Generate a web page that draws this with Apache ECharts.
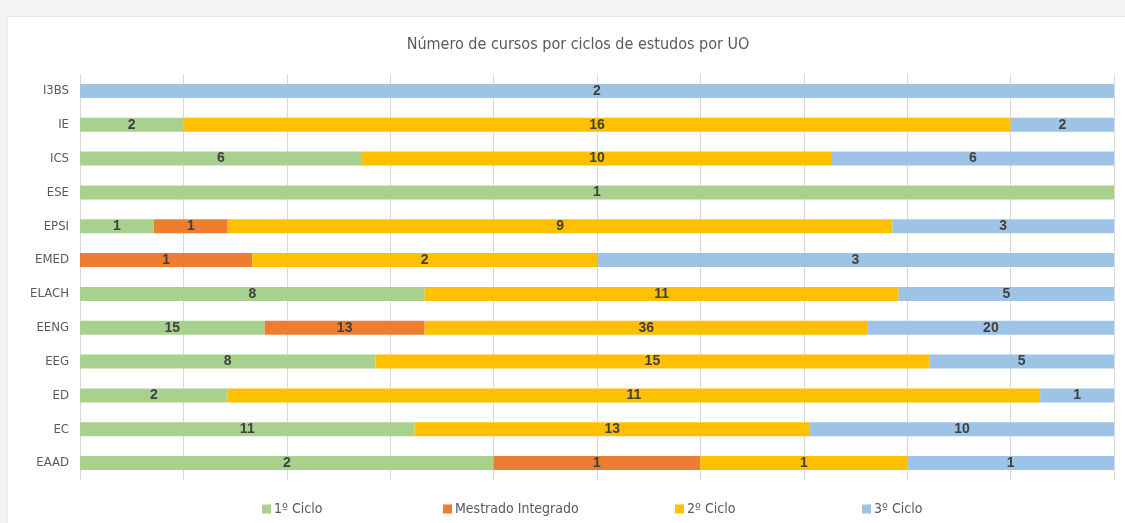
<!DOCTYPE html>
<html>
<head>
<meta charset="utf-8">
<script src="https://cdn.jsdelivr.net/npm/echarts@6/dist/echarts.min.js"></script>
<style>
  html, body { margin: 0; padding: 0; background: #f3f3f3; }
  #card { position: absolute; left: 7px; top: 16px; width: 1130px; height: 520px; background: #fff; border-top: 1px solid #e4e4e4; border-left: 1px solid #ececec; }
  #chart { position: absolute; left: 0; top: 0; width: 1125px; height: 523px; }
</style>
</head>
<body>
<div id="card"></div>
<div id="chart"></div>
<script>
// categories top to bottom
const units = ['I3BS', 'IE', 'ICS', 'ESE', 'EPSI', 'EMED', 'ELACH', 'EENG', 'EEG', 'ED', 'EC', 'EAAD'];
// number of courses per cycle (0 = none)
const ciclo1    = [0, 2, 6, 1, 1, 0, 8, 15, 8, 2, 11, 2];
const mestrado  = [0, 0, 0, 0, 1, 1, 0, 13, 0, 0, 0, 1];
const ciclo2    = [0, 16, 10, 0, 9, 2, 11, 36, 15, 11, 13, 1];
const ciclo3    = [2, 2, 6, 0, 3, 3, 5, 20, 5, 1, 10, 1];

const seriesNames = ['1º Ciclo', 'Mestrado Integrado', '2º Ciclo', '3º Ciclo'];
const colors = ['#a9d18e', '#ed7d31', '#ffc000', '#9dc3e6'];
const counts = [ciclo1, mestrado, ciclo2, ciclo3];
const legendLeft = [257, 438, 670, 857];

const totals = units.map((u, i) => counts.reduce((s, arr) => s + arr[i], 0));

const font = "'Liberation Sans Narrow', 'DejaVu Sans Condensed', 'Liberation Sans', sans-serif";

const myChart = echarts.init(document.getElementById('chart'));

const option = {
  animation: false,
  title: {
    text: 'Número de cursos por ciclos de estudos por UO',
    left: 573,
    top: 32,
    textAlign: 'center',
    textStyle: { fontFamily: font, fontSize: 16, fontWeight: 'normal', color: '#595959' }
  },
  // one legend per item so each sits where the original puts it
  legend: seriesNames.map((name, k) => ({
    data: [name],
    bottom: 2,
    left: legendLeft[k],
    itemWidth: 9,
    itemHeight: 9,
    icon: 'rect',
    textStyle: { fontFamily: font, fontSize: 14, color: '#595959', padding: [0, 0, 0, -2] }
  })),
  grid: { left: 80, right: 11, top: 74, bottom: 43 },
  xAxis: {
    type: 'value',
    min: 0,
    max: 1,
    interval: 0.1,
    axisLabel: { show: false },
    axisLine: { show: false },
    axisTick: { show: false },
    splitLine: { lineStyle: { color: '#d9d9d9', width: 1 } }
  },
  yAxis: {
    type: 'category',
    data: units,
    inverse: true,
    axisLine: { show: false },
    axisTick: { show: false },
    axisLabel: { fontFamily: font, fontSize: 13, color: '#595959', margin: 11 }
  },
  series: seriesNames.map((name, k) => ({
    name: name,
    type: 'bar',
    stack: 'total',
    barWidth: 14,
    itemStyle: { color: colors[k] },
    label: {
      show: true,
      position: 'inside',
      fontFamily: "'Liberation Sans', Arial, sans-serif",
      fontSize: 14,
      fontWeight: 'bold',
      color: '#404040',
      formatter: p => counts[k][p.dataIndex] ? String(counts[k][p.dataIndex]) : ''
    },
    data: counts[k].map((c, i) => c ? c / totals[i] : null)
  }))
};

myChart.setOption(option);
</script>
</body>
</html>
